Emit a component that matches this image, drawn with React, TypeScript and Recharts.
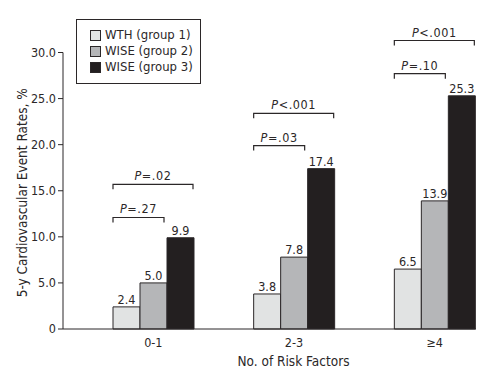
import { BarChart, Bar, XAxis, YAxis, LabelList, Legend } from "recharts";

const categories = ["0-1", "2-3", "≥4"];
const wthGroup1 = [2.4, 3.8, 6.5];
const wiseGroup2 = [5.0, 7.8, 13.9];
const wiseGroup3 = [9.9, 17.4, 25.3];
const yTicks = [0, 5, 10, 15, 20, 25, 30];

// significance brackets: group 1 vs 2 (near) and group 1 vs 3 (far)
const pNear = ["P=.27", "P=.03", "P=.10"];
const pNearLevel = [12.1, 19.9, 27.7];
const pFar = ["P=.02", "P<.001", "P<.001"];
const pFarLevel = [15.7, 23.4, 31.3];

const FONT = '"DejaVu Sans Condensed", "Liberation Sans Narrow", "Liberation Sans", sans-serif';
const INK = "#2b2728";
const TS = 12.5;

const series = [
  { key: "g1", name: "WTH (group 1)", fill: "#e1e3e3" },
  { key: "g2", name: "WISE (group 2)", fill: "#b5b6b8" },
  { key: "g3", name: "WISE (group 3)", fill: "#231f20" },
];

const data = categories.map((cat, i) => ({
  cat,
  g1: wthGroup1[i],
  g2: wiseGroup2[i],
  g3: wiseGroup3[i],
}));

function PText({ x, y, label }: { x: number; y: number; label: string }) {
  return (
    <text x={x} y={y} textAnchor="middle" fontSize={TS} fontFamily={FONT} fontStretch="condensed" fill={INK} letterSpacing={0.6}>
      <tspan fontStyle="italic">{label[0]}</tspan>
      {label.slice(1)}
    </text>
  );
}

function Brackets(props: any) {
  const vb = props.viewBox ?? props;
  const i = typeof props.index === "number" ? props.index : wiseGroup3.indexOf(Number(props.value));
  if (i < 0) return null;
  const h = Math.abs(vb.height);
  const top = Math.min(vb.y, vb.y + vb.height);
  const base = top + h;
  const k = h / wiseGroup3[i];
  const w = vb.width;
  const left = vb.x - 2 * w;
  const right = vb.x + w;
  const yN = base - pNearLevel[i] * k;
  const yF = base - pFarLevel[i] * k;
  const nRight = left + 2 * w - 3;
  const fRight = right - 1;
  return (
    <g>
      <path d={`M${left},${yN + 5}V${yN}H${nRight}V${yN + 5}`} fill="none" stroke={INK} strokeWidth={1.2} />
      <PText x={(left + nRight) / 2} y={yN - 4} label={pNear[i]} />
      <path d={`M${left},${yF + 5}V${yF}H${fRight}V${yF + 5}`} fill="none" stroke={INK} strokeWidth={1.2} />
      <PText x={(left + fRight) / 2} y={yF - 4} label={pFar[i]} />
    </g>
  );
}

function LegendBox() {
  return (
    <div
      style={{
        position: "relative",
        width: 123,
        height: 63,
        border: `1px solid ${INK}`,
        background: "#fff",
        fontFamily: FONT,
        fontStretch: "condensed",
        fontSize: 13,
        color: INK,
      }}
    >
      {series.map((s, i) => (
        <div
          key={s.key}
          style={{ position: "absolute", left: 13, top: 7 + i * 16, display: "flex", alignItems: "center", lineHeight: "16px", whiteSpace: "nowrap" }}
        >
          <span style={{ width: 9, height: 9, background: s.fill, border: `1px solid ${INK}`, marginRight: 4 }} />
          <span>{s.name}</span>
        </div>
      ))}
    </div>
  );
}

export default function App() {
  return (
    <div>
      <style>{"body{margin:0;background:#fff}"}</style>
      <BarChart
        width={489}
        height={374}
        data={data}
        barSize={27}
        barGap={0}
        margin={{ top: 52.5, right: 13, bottom: 0, left: 0 }}
      >
        <XAxis
          dataKey="cat"
          padding={{ left: 20, right: -29 }}
          tickLine={false}
          tickSize={6}
          tickMargin={3}
          height={45}
          stroke={INK}
          tick={{ fontSize: TS, fontFamily: FONT, fontStretch: "condensed", fill: INK }}
          label={{
            content: ({ viewBox }: any) => (
              <text
                x={viewBox.x + viewBox.width / 2 + 24}
                y={viewBox.y + 37}
                textAnchor="middle"
                fontSize={13.5}
                fontFamily={FONT}
                fontStretch="condensed"
                fill={INK}
              >
                No. of Risk Factors
              </text>
            ),
          }}
        />
        <YAxis
          width={63}
          domain={[0, 30]}
          ticks={yTicks}
          interval={0}
          tickSize={5}
          tickMargin={2}
          stroke={INK}
          tickFormatter={(v: number) => (v === 0 ? "0" : v.toFixed(1))}
          tick={{ fontSize: TS, fontFamily: FONT, fontStretch: "condensed", fill: INK }}
          label={{
            content: ({ viewBox }: any) => {
              const cx = viewBox.x + 22;
              const cy = viewBox.y + viewBox.height / 2 + 2;
              return (
                <text
                  x={cx}
                  y={cy}
                  transform={`rotate(-90 ${cx} ${cy})`}
                  textAnchor="middle"
                  dominantBaseline="central"
                  fontSize={13.5}
                  fontFamily={FONT}
                  fontStretch="condensed"
                  fill={INK}
                >
                  5-y Cardiovascular Event Rates, %
                </text>
              );
            },
          }}
        />
        <Legend
          layout="horizontal"
          verticalAlign="middle"
          align="center"
          wrapperStyle={{ left: 76, top: 19, width: 125, height: 65 }}
          content={() => <LegendBox />}
        />
        {series.map((s) => (
          <Bar key={s.key} dataKey={s.key} name={s.name} fill={s.fill} stroke={INK} strokeWidth={1} isAnimationActive={false}>
            <LabelList
              dataKey={s.key}
              position="top"
              offset={3}
              formatter={(v: any) => Number(v).toFixed(1)}
              fontSize={TS}
              fontFamily={FONT}
              fontStretch="condensed"
              fill={INK}
            />
            {s.key === "g3" && <LabelList dataKey="g3" content={Brackets} />}
          </Bar>
        ))}
      </BarChart>
    </div>
  );
}
